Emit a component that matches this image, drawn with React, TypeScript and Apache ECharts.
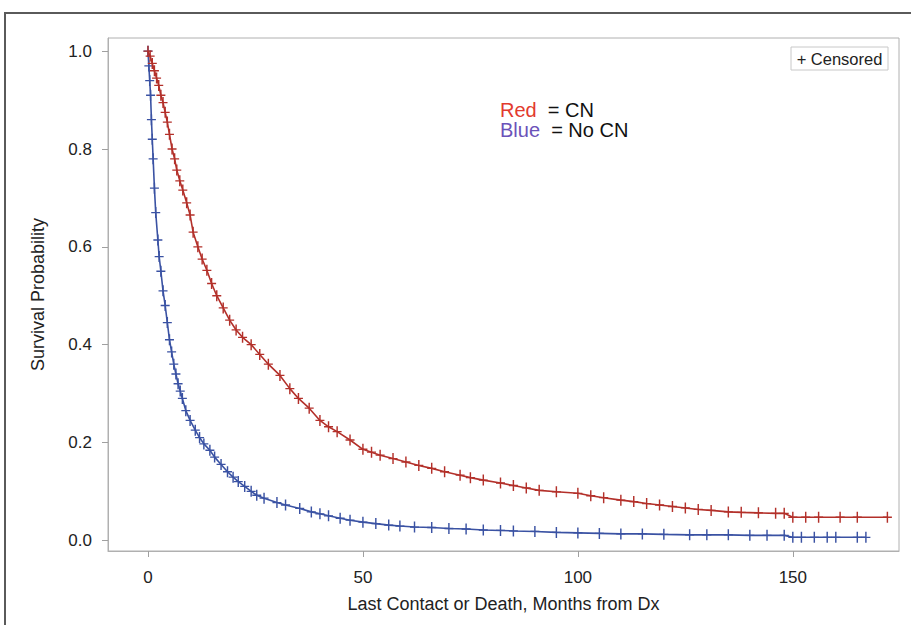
import React, { useEffect, useRef } from "react";
import * as echarts from "echarts";

// Kaplan-Meier estimates: [months, survival probability]
const cnCurve: [number, number][] = [
  [0, 1.0], [0.5, 0.99], [1, 0.975], [1.5, 0.96], [2, 0.945], [2.5, 0.93], [3, 0.91], [3.5, 0.895],
  [4, 0.875], [4.5, 0.855], [5, 0.83], [5.6, 0.8], [6.2, 0.78], [6.7, 0.757], [7.4, 0.735], [8.1, 0.716],
  [9, 0.69], [9.8, 0.665], [10.5, 0.63], [11.6, 0.6], [12.6, 0.575], [13.7, 0.552], [14.8, 0.525],
  [16, 0.5], [17.5, 0.475], [19, 0.45], [20.5, 0.43], [22, 0.415], [24, 0.4], [26, 0.38], [28, 0.36],
  [30.7, 0.337], [33, 0.31], [35, 0.29], [37.5, 0.27], [40, 0.245], [42, 0.232], [44, 0.222],
  [47, 0.205], [50, 0.186], [52, 0.18], [54, 0.174], [57, 0.167], [60, 0.16], [63, 0.153], [66, 0.147],
  [69, 0.14], [72.6, 0.133], [75, 0.128], [78, 0.123], [82, 0.117], [85, 0.112], [88, 0.107], [91, 0.102],
  [95, 0.099], [100, 0.096], [103, 0.091], [106, 0.087], [110, 0.082], [113, 0.079], [116, 0.075],
  [119, 0.072], [122, 0.069], [125, 0.066], [128, 0.063], [131, 0.061], [135, 0.058], [138, 0.057],
  [142, 0.056], [146, 0.055], [148, 0.055], [150, 0.047], [153, 0.047], [156, 0.047], [161, 0.047],
  [165, 0.047], [172, 0.047],
];

const noCnCurve: [number, number][] = [
  [0, 1.0], [0.2, 0.97], [0.4, 0.94], [0.6, 0.91], [0.8, 0.86], [1, 0.82], [1.2, 0.78], [1.5, 0.72],
  [1.8, 0.67], [2.3, 0.614], [2.6, 0.58], [3, 0.55], [3.5, 0.51], [4, 0.48], [4.5, 0.445], [5, 0.41],
  [5.5, 0.385], [6, 0.36], [6.5, 0.34], [7, 0.32], [7.5, 0.305], [8, 0.29], [8.8, 0.265], [9.8, 0.245],
  [11, 0.225], [12, 0.21], [13, 0.197], [14.4, 0.184], [15.5, 0.17], [17, 0.155], [18.5, 0.14],
  [19.8, 0.129], [21, 0.12], [22.5, 0.11], [24, 0.1], [25.3, 0.092], [27, 0.086], [30, 0.077],
  [32, 0.072], [35.3, 0.065], [38, 0.058], [40, 0.054], [42, 0.05], [44.7, 0.045], [47, 0.041],
  [50, 0.037], [53, 0.034], [56, 0.031], [58.6, 0.029], [62, 0.027], [66, 0.026], [70, 0.024],
  [74, 0.023], [78, 0.021], [82, 0.02], [85, 0.019], [90, 0.018], [95, 0.016], [100, 0.015],
  [105, 0.014], [110, 0.013], [115, 0.013], [120, 0.012], [126, 0.011], [130, 0.011], [135, 0.011],
  [140, 0.01], [144, 0.01], [148, 0.01], [150, 0.006], [152, 0.006], [155, 0.006], [158, 0.006],
  [160, 0.006], [165, 0.006], [167, 0.006],
];

const xTicks = [0, 50, 100, 150];
const yTicks = [0, 0.2, 0.4, 0.6, 0.8, 1.0];

const PLUS = "path://M-0.16,-1H0.16V-0.12H1V0.12H0.16V1H-0.16V0.12H-1V-0.12H-0.16Z";
const RED = "#b3302a";
const BLUE = "#3a52a3";
const FONT = "Liberation Sans, Arial, sans-serif";

export default function App() {
  const ref = useRef<HTMLDivElement>(null);
  useEffect(() => {
    document.body.style.margin = "0";
    const chart = echarts.init(ref.current!, null, { renderer: "svg" });
    chart.setOption({
      animation: false,
      backgroundColor: "#ffffff",
      textStyle: { fontFamily: FONT },
      grid: {
        left: 108, top: 38, right: 12, bottom: 74,
        show: true, borderColor: "#b0b0b0", borderWidth: 1,
      },
      xAxis: {
        type: "value", min: -9.3, max: 174.7,
        name: "Last Contact or Death, Months from Dx",
        nameLocation: "middle", nameGap: 44,
        nameTextStyle: { fontSize: 18, color: "#222", fontFamily: FONT },
        axisLine: { show: true, onZero: false, lineStyle: { color: "#b0b0b0" } },
        axisTick: { show: true, length: 6, customValues: xTicks, lineStyle: { color: "#a0a0a0" } },
        axisLabel: { customValues: xTicks, margin: 18, fontSize: 17, color: "#222", fontFamily: FONT },
        splitLine: { show: false },
      },
      yAxis: {
        type: "value", min: -0.022, max: 1.027,
        name: "Survival Probability",
        nameLocation: "middle", nameGap: 61,
        nameTextStyle: { fontSize: 18, color: "#222", fontFamily: FONT },
        axisLine: { show: true, onZero: false, lineStyle: { color: "#b0b0b0" } },
        axisTick: { show: true, length: 6, customValues: yTicks, lineStyle: { color: "#a0a0a0" } },
        axisLabel: {
          customValues: yTicks, margin: 16, fontSize: 17, color: "#222", fontFamily: FONT,
          formatter: (v: number) => v.toFixed(1),
        },
        splitLine: { show: false },
      },
      series: [
        {
          name: "CN", type: "line", data: cnCurve, showSymbol: true, symbol: PLUS, symbolSize: [9, 11],
          lineStyle: { color: RED, width: 1.6 }, itemStyle: { color: RED }, z: 3,
        },
        {
          name: "No CN", type: "line", data: noCnCurve, showSymbol: true, symbol: PLUS, symbolSize: [9, 11],
          lineStyle: { color: BLUE, width: 1.6 }, itemStyle: { color: BLUE }, z: 2,
        },
      ],
      graphic: [
        {
          type: "rect", silent: true,
          shape: { x: 5, y: 13, width: 930, height: 640 },
          style: { fill: "none", stroke: "#5a5a5a", lineWidth: 2 },
        },
        {
          type: "rect", silent: true,
          shape: { x: 791, y: 47, width: 97, height: 23 },
          style: { fill: "#fff", stroke: "#c8c8c8", lineWidth: 1 },
        },
        {
          type: "text", silent: true, x: 839.5, y: 58.5,
          style: {
            text: "+ Censored", fontSize: 16.5, fill: "#222", fontFamily: FONT,
            align: "center", verticalAlign: "middle",
          },
        },
        {
          type: "text", silent: true, x: 500, y: 100,
          style: {
            text: "{r|Red}  = CN\n{b|Blue}  = No CN",
            fontSize: 20, fill: "#111", fontFamily: FONT, lineHeight: 20,
            rich: {
              r: { fill: "#e23a2e", fontSize: 20, fontFamily: FONT, lineHeight: 20 },
              b: { fill: "#6b52b9", fontSize: 20, fontFamily: FONT, lineHeight: 20 },
            },
          },
        },
      ],
    });
    return () => chart.dispose();
  }, []);
  return <div ref={ref} style={{ width: 911, height: 625 }} />;
}
